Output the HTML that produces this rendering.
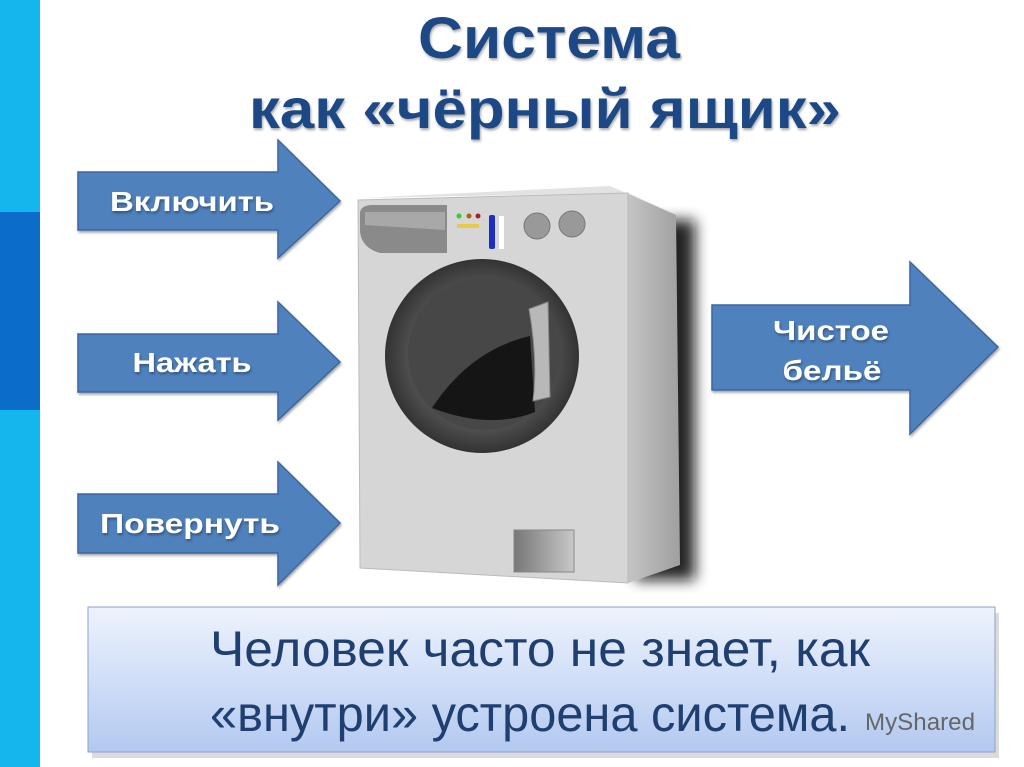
<!DOCTYPE html>
<html><head><meta charset="utf-8"><style>
html,body{margin:0;padding:0;background:#fff;}
svg{display:block}
</style></head><body>
<svg width="1024" height="767" viewBox="0 0 1024 767" xmlns="http://www.w3.org/2000/svg">
<defs>
<linearGradient id="box" x1="0" y1="0" x2="0" y2="1">
<stop offset="0" stop-color="#eef3fd"/><stop offset="1" stop-color="#b3c9f1"/>
</linearGradient>
<linearGradient id="side" x1="0" y1="0" x2="1" y2="0">
<stop offset="0" stop-color="#c4c4c4"/><stop offset="1" stop-color="#a0a0a0"/>
</linearGradient>
<radialGradient id="door" cx="0.5" cy="0.5" r="0.5">
<stop offset="0.7" stop-color="#555"/><stop offset="1" stop-color="#333"/>
</radialGradient>
<linearGradient id="drawer" x1="0" y1="0" x2="1" y2="0">
<stop offset="0" stop-color="#777"/><stop offset="1" stop-color="#c8c8c8"/>
</linearGradient>
<filter id="blur" x="-30%" y="-20%" width="160%" height="140%"><feGaussianBlur stdDeviation="7"/></filter>
<filter id="ts"><feDropShadow dx="1" dy="2" stdDeviation="1.2" flood-color="#000" flood-opacity="0.35"/></filter>
</defs>
<rect x="0" y="0" width="40" height="767" fill="#13b7ee"/>
<rect x="0" y="212" width="40" height="198" fill="#0b6dc9"/>

<g font-family="Liberation Sans, sans-serif" font-weight="bold" fill="#1f4a86" text-anchor="middle" filter="url(#ts)">
<text x="549" y="58" font-size="58" textLength="262" lengthAdjust="spacingAndGlyphs">Система</text>
<text x="545" y="128" font-size="56" textLength="592" lengthAdjust="spacingAndGlyphs">как «чёрный ящик»</text>
</g>

<g fill="#4f81bd" stroke="#3a66a0" stroke-width="1.5" filter="url(#ts)">
<polygon points="78,172 278,172 278,140 340,201 278,258 278,230 78,230"/>
<polygon points="78,334 278,334 278,302 340,362 278,420 278,392 78,392"/>
<polygon points="78,494 278,494 278,462 340,523 278,585 278,553 78,553"/>
<polygon points="712,305 910,305 910,262 998,347 910,434 910,390 712,390"/>
</g>
<g font-family="Liberation Sans, sans-serif" font-weight="bold" fill="#fff" font-size="28" text-anchor="middle" filter="url(#ts)">
<text x="192" y="211" textLength="164" lengthAdjust="spacingAndGlyphs">Включить</text>
<text x="192" y="372" textLength="119" lengthAdjust="spacingAndGlyphs">Нажать</text>
<text x="190" y="533" textLength="180" lengthAdjust="spacingAndGlyphs">Повернуть</text>
<text x="831" y="340" textLength="116" lengthAdjust="spacingAndGlyphs">Чистое</text>
<text x="832" y="380" textLength="99" lengthAdjust="spacingAndGlyphs">бельё</text>
</g>

<!-- washing machine -->
<rect x="635" y="220" width="60" height="360" fill="#111" filter="url(#blur)" opacity="0.9"/>
<polygon points="628,193 676,215 680,565 628,583" fill="url(#side)"/>
<polygon points="360,198 610,186 676,215 628,193" fill="#e2e2e2"/>
<polygon points="358,200 628,193 628,583 360,568" fill="#d6d6d6" stroke="#bbb"/>
<path d="M360,212 Q362,205 372,205 L447,205 L447,253 L380,253 Q362,248 360,232 Z" fill="#8a8a8a"/>
<path d="M365,212 L445,212 L445,230 L365,225 Z" fill="#a8a8a8"/>
<circle cx="459" cy="216" r="2.5" fill="#3c3"/><circle cx="469" cy="216" r="2.5" fill="#a60"/><circle cx="478" cy="216" r="2.5" fill="#a22"/>
<rect x="457" y="224" width="22" height="4" fill="#e8c94a"/>
<rect x="489" y="215" width="6" height="34" rx="2" fill="#1a2fc0"/>
<rect x="499" y="216" width="5" height="33" fill="#fff"/>
<circle cx="537" cy="226" r="13" fill="#999" stroke="#777"/>
<circle cx="572" cy="224" r="13" fill="#999" stroke="#777"/>
<circle cx="482" cy="356" r="97" fill="url(#door)"/>
<circle cx="484" cy="354" r="76" fill="#474747"/>
<path d="M432,408 Q470,350 530,336 L535,412 Q490,430 432,408 Z" fill="#151515"/>
<path d="M529,309 L548,302 L550,397 L533,401 Q538,360 529,309 Z" fill="#b8b8b8" stroke="#888"/>
<rect x="514" y="530" width="60" height="42" fill="url(#drawer)" stroke="#888"/>

<!-- bottom box -->
<rect x="90" y="610" width="907" height="145" fill="#999" opacity="0.35" transform="translate(2,3)"/>
<rect x="88" y="607" width="907" height="145" fill="url(#box)" stroke="#8aa2c8" stroke-width="1"/>
<g font-family="Liberation Sans, sans-serif" fill="#1f3f70" font-size="50" text-anchor="middle">
<text x="540" y="666" textLength="660" lengthAdjust="spacingAndGlyphs">Человек часто не знает, как</text>
<text x="530" y="731" textLength="640" lengthAdjust="spacingAndGlyphs">«внутри» устроена система.</text>
</g>
<text x="920" y="730" font-family="Liberation Sans, sans-serif" font-size="24" fill="#666" text-anchor="middle" textLength="110" lengthAdjust="spacingAndGlyphs">MyShared</text>
</svg>
</body></html>
